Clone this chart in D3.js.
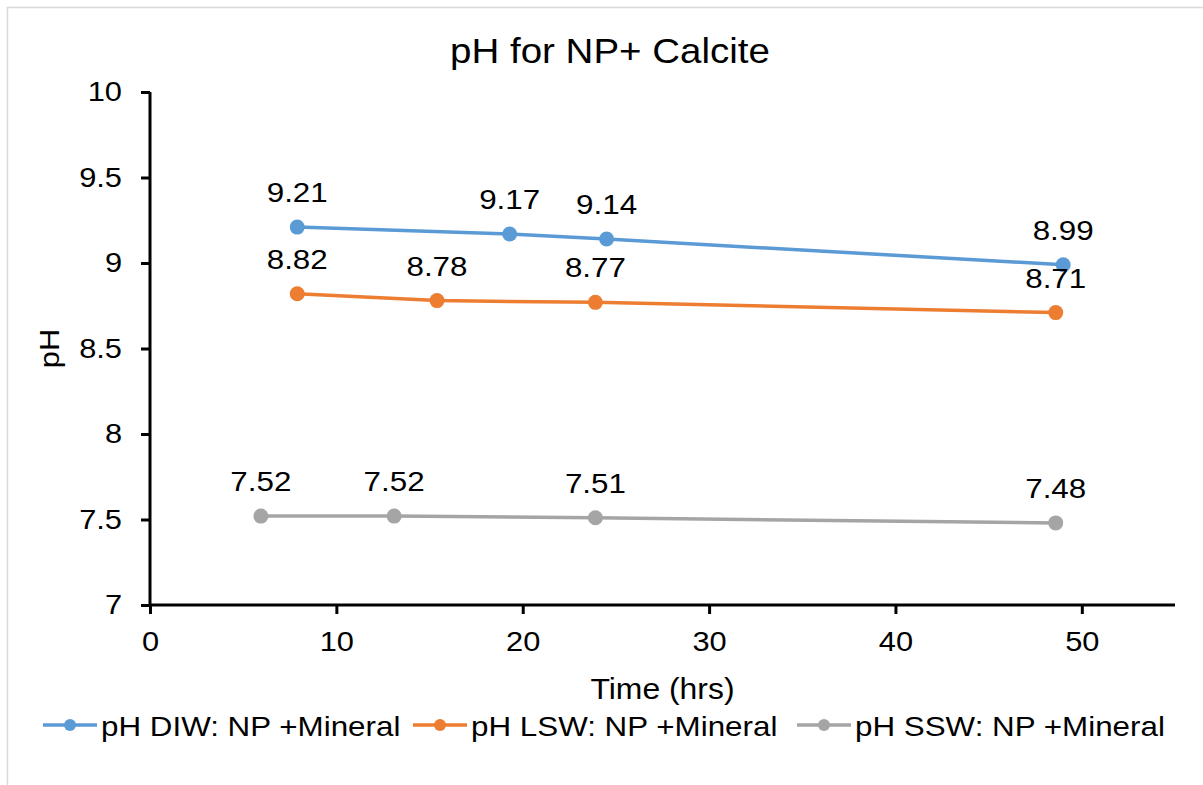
<!DOCTYPE html>
<html>
<head>
<meta charset="utf-8">
<script src="https://cdn.jsdelivr.net/npm/d3@7"></script>
<style>
  html, body { margin: 0; padding: 0; background: #fff; }
  svg { display: block; font-family: "Liberation Sans", Arial, sans-serif; }
</style>
</head>
<body>
<svg id="chart" width="1203" height="785"></svg>
<script>
// pH of nanoparticle + calcite suspensions over time
const seriesNames = ["pH DIW: NP +Mineral", "pH LSW: NP +Mineral", "pH SSW: NP +Mineral"];
const seriesColors = ["#5B9BD5", "#ED7D31", "#A5A5A5"];

const diwTime = [7.9, 19.3, 24.5, 49.0];
const diwPH   = [9.21, 9.17, 9.14, 8.99];

const lswTime = [7.9, 15.4, 23.9, 48.6];
const lswPH   = [8.82, 8.78, 8.77, 8.71];

const sswTime = [5.95, 13.1, 23.9, 48.6];
const sswPH   = [7.52, 7.52, 7.51, 7.48];

const xTicks = [0, 10, 20, 30, 40, 50];
const yTicks = [7, 7.5, 8, 8.5, 9, 9.5, 10];

const series = [
  { name: seriesNames[0], color: seriesColors[0], t: diwTime, v: diwPH },
  { name: seriesNames[1], color: seriesColors[1], t: lswTime, v: lswPH },
  { name: seriesNames[2], color: seriesColors[2], t: sswTime, v: sswPH }
].map(s => ({ ...s, pts: s.t.map((t, i) => ({ t, v: s.v[i] })) }));

const svg = d3.select("#chart");

// outer chart-area frame
svg.append("rect")
  .attr("x", 7.5).attr("y", 7.5)
  .attr("width", 1230).attr("height", 820)
  .attr("fill", "#fff")
  .attr("stroke", "#d9d9d9").attr("stroke-width", 1.5);

const plot = { left: 150, right: 1175, top: 92, bottom: 605 };

const x = d3.scaleLinear().domain([0, 55]).range([plot.left, plot.right]);
const y = d3.scaleLinear().domain([7, 10]).range([plot.bottom, plot.top]);

// title
svg.append("text")
  .attr("x", 610).attr("y", 63)
  .attr("text-anchor", "middle")
  .attr("font-size", 35)
  .attr("fill", "#000")
  .text("pH for NP+ Calcite");

// axes
const xAxis = svg.append("g")
  .attr("transform", `translate(0,${plot.bottom})`)
  .call(d3.axisBottom(x).tickValues(xTicks).tickSize(9).tickPadding(17).tickFormat(d3.format("d")));
const yAxis = svg.append("g")
  .attr("transform", `translate(${plot.left},0)`)
  .call(d3.axisLeft(y).tickValues(yTicks).tickSize(9).tickPadding(19).tickFormat(d => String(d)));

[xAxis, yAxis].forEach(g => {
  g.select(".domain").attr("stroke", "#000").attr("stroke-width", 3);
  g.selectAll(".tick line").attr("stroke", "#000").attr("stroke-width", 3);
  g.selectAll(".tick text")
    .attr("font-family", "Liberation Sans, Arial, sans-serif")
    .attr("font-size", 28).attr("fill", "#000");
});
xAxis.select(".domain").attr("d", `M${plot.left},0H${plot.right}`);
yAxis.select(".domain").attr("d", `M0,${plot.bottom}V${plot.top}`);

// axis titles
svg.append("text")
  .attr("x", (plot.left + plot.right) / 2).attr("y", 699)
  .attr("text-anchor", "middle")
  .attr("font-size", 29)
  .text("Time (hrs)");

svg.append("text")
  .attr("transform", `translate(59,${(plot.top + plot.bottom) / 2}) rotate(-90)`)
  .attr("text-anchor", "middle")
  .attr("font-size", 28)
  .text("pH");

// series lines, markers and value labels
const line = d3.line().x(d => x(d.t)).y(d => y(d.v));

series.forEach(s => {
  const g = svg.append("g");
  g.append("path")
    .datum(s.pts)
    .attr("d", line)
    .attr("fill", "none")
    .attr("stroke", s.color)
    .attr("stroke-width", 3.5)
    .attr("stroke-linecap", "round");
  g.selectAll("circle")
    .data(s.pts)
    .join("circle")
    .attr("cx", d => x(d.t)).attr("cy", d => y(d.v))
    .attr("r", 7.5)
    .attr("fill", s.color);
  g.selectAll("text")
    .data(s.pts)
    .join("text")
    .attr("x", d => x(d.t)).attr("y", d => y(d.v) - 25)
    .attr("text-anchor", "middle")
    .attr("font-size", 28.5)
    .attr("fill", "#000")
    .text(d => d3.format(".2f")(d.v));
});

// legend
const legendItems = [
  { x0: 43, tx: 101 },
  { x0: 413, tx: 471 },
  { x0: 797, tx: 855 }
];
const legendY = 725;
series.forEach((s, i) => {
  const it = legendItems[i];
  const g = svg.append("g");
  g.append("line")
    .attr("x1", it.x0).attr("x2", it.x0 + 54)
    .attr("y1", legendY).attr("y2", legendY)
    .attr("stroke", s.color).attr("stroke-width", 3.5);
  g.append("circle")
    .attr("cx", it.x0 + 27).attr("cy", legendY).attr("r", 6)
    .attr("fill", s.color);
  g.append("text")
    .attr("x", it.tx).attr("y", legendY + 11)
    .attr("font-size", 28.5)
    .text(s.name);
});

// the chart's lettering runs slightly wide; stretch every label horizontally
svg.selectAll("text").each(function () {
  const w = this.getComputedTextLength();
  d3.select(this).attr("textLength", w * 1.1).attr("lengthAdjust", "spacingAndGlyphs");
});
</script>
</body>
</html>
